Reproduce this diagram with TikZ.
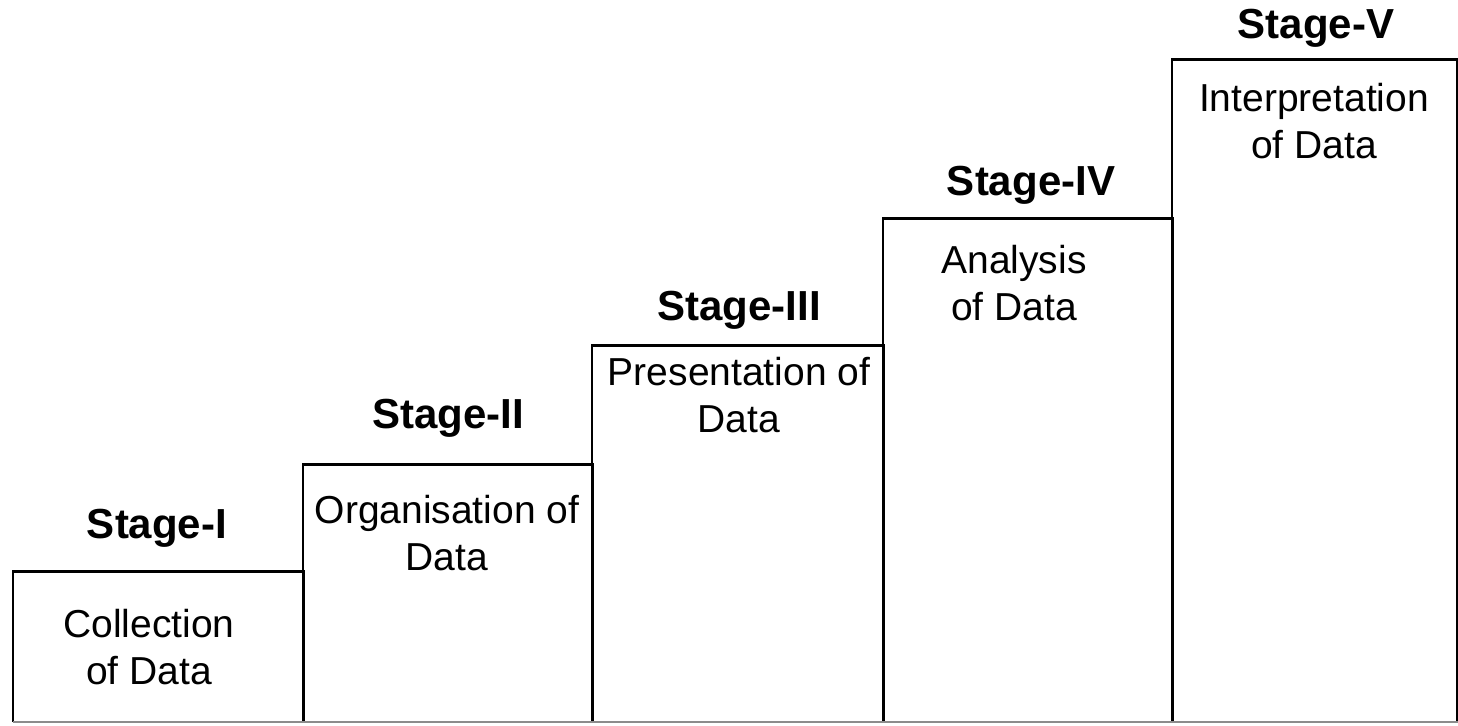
\documentclass[tikz,border=0pt]{standalone}
\usepackage{fontspec}
\setmainfont{Liberation Sans}
\begin{document}
\begin{tikzpicture}[x=0.5pt,y=-0.5pt,
  stagebox/.style={draw=none,minimum width=#1,inner sep=0pt,anchor=south west},
  edge/.style={line width=1.4pt,black},
  base/.style={line width=1.2pt,black!45},
  body/.style={align=center,inner sep=0pt,font=\fontsize{19.5pt}{23.5pt}\selectfont},
  head/.style={inner sep=0pt,font=\fontsize{21pt}{25pt}\selectfont\bfseries}]
\useasboundingbox (0,0) rectangle (1458,725);
% boxes (width, height in pt = px/2)
\node[stagebox=145pt,minimum height=75pt]    (b1) at (13,722)  {};
\node[stagebox=144.5pt,minimum height=128.5pt] (b2) at (303,722) {};
\node[stagebox=145.5pt,minimum height=188pt]  (b3) at (592,722) {};
\node[stagebox=144.5pt,minimum height=251.5pt] (b4) at (883,722) {};
\node[stagebox=142.5pt,minimum height=331pt]  (b5) at (1172,722) {};
\foreach \b in {b1,b2,b3,b4,b5}{
  \draw[edge] (\b.south west) |- (\b.north east) -- (\b.south east);
}
\draw[base] (b1.south west) -- (b5.south east);
% headings
\node[head] (h1) at (157,528) {Stage-I};
\node[head] (h2) at (448,418) {Stage-II};
\node[head] (h3) at (739,310) {Stage-III};
\node[head] (h4) at (1031,185) {Stage-IV};
\node[head] (h5) at (1316,28) {Stage-V};
% texts
\node[body] (t1) at (149,647) {Collection\\of Data};
\node[body] (t2) at (447,533) {Organisation of\\Data};
\node[body] (t3) at (739,395) {Presentation of\\Data};
\node[body] (t4) at (1014,283) {Analysis\\of Data};
\node[body] (t5) at (1314,121) {Interpretation\\of Data};
\end{tikzpicture}
\end{document}
